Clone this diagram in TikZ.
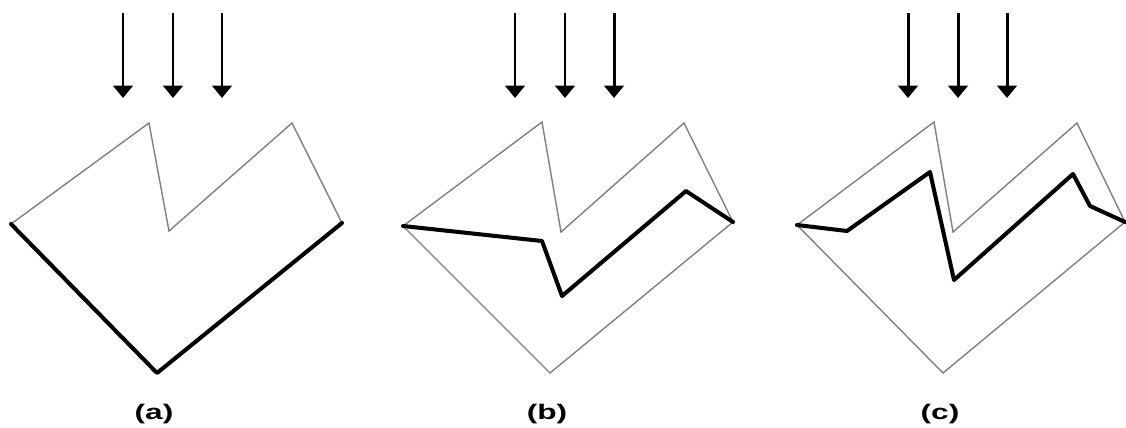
\documentclass[tikz,border=0pt]{standalone}
\usepackage{fontspec}
\setmainfont{Liberation Sans}
\usetikzlibrary{arrows.meta}

\begin{document}
\begin{tikzpicture}[x=0.02cm, y=-0.02cm,
  outline/.style={draw=black!50, line width=0.8pt, line join=miter},
  cut/.style={draw=black, line width=2.3pt, line join=round, line cap=round},
  ray/.style={-{Triangle[width=11pt, length=7pt]}, line width=1.7pt},
  tag/.style={font=\bfseries\large}]
\useasboundingbox (0,0) rectangle (1126,427);
% incoming rays
\foreach \x in {123,173,222,515,565,614,908,958,1007} {
  \coordinate (s\x) at (\x,13);
  \coordinate (e\x) at (\x,98);
  \draw[ray] (s\x) -- (e\x);
}
% (a)
\draw[outline] (11,224) -- (149,123) -- (169,231) -- (292,123) -- (342,223) -- (157,373) -- cycle;
\draw[cut] (11,224) -- (157,373) -- (342,223);
\node[tag] (la) at (154,414) {\scalebox{1.5}[1]{(a)}};
% (b)
\draw[outline] (403,226) -- (542,122) -- (561,232) -- (684,123) -- (733,222) -- (550,373) -- cycle;
\draw[cut] (403,226) -- (542,241) -- (562,296) -- (686,191) -- (733,222);
\node[tag] (lb) at (547,414) {\scalebox{1.5}[1]{(b)}};
% (c)
\draw[outline] (797,225) -- (934,122) -- (953,232) -- (1077,123) -- (1125,222) -- (943,373) -- cycle;
\draw[cut] (797,225) -- (847,231) -- (930,172) -- (954,280) -- (1073,174) -- (1090,206) -- (1125,222);
\node[tag] (lc) at (940,414) {\scalebox{1.5}[1]{(c)}};
\end{tikzpicture}
\end{document}
